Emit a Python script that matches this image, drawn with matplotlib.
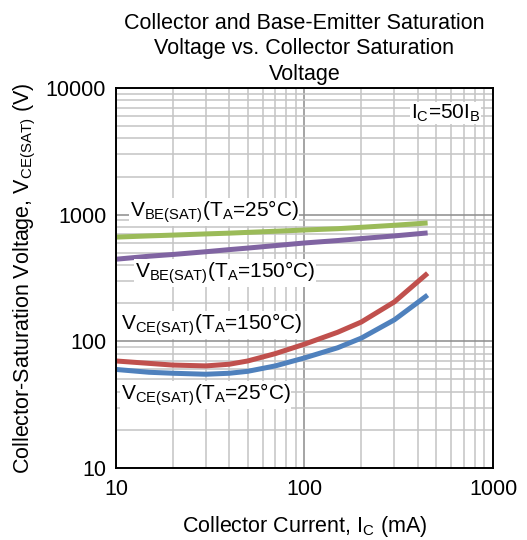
import numpy as np
import matplotlib.pyplot as plt
from matplotlib.ticker import LogLocator, NullFormatter, FixedLocator

plt.rcParams['font.family'] = ['Liberation Sans', 'DejaVu Sans']
plt.rcParams['mathtext.default'] = 'regular'

# collector current (mA)
ic = [10, 15, 20, 30, 40, 50, 70, 100, 150, 200, 300, 450]
# saturation voltages (mV)
vbe_25 = [665, 680, 690, 705, 715, 725, 740, 757, 775, 795, 825, 860]
vbe_150 = [445, 470, 485, 510, 530, 545, 570, 598, 625, 648, 680, 718]
vce_150 = [70, 67, 65, 64, 66, 70, 80, 95, 118, 142, 205, 345]
vce_25 = [60, 57, 56, 55, 56, 58, 64, 74, 89, 106, 148, 232]

fig = plt.figure(figsize=(5.27, 5.40), dpi=100)
ax = fig.add_axes([0.220, 0.1333, 0.7155, 0.7037])

ax.set_xscale('log')
ax.set_yscale('log')
ax.set_xlim(10, 1000)
ax.set_ylim(10, 10000)

ax.xaxis.set_major_locator(FixedLocator([10, 100, 1000]))
ax.yaxis.set_major_locator(FixedLocator([10, 100, 1000, 10000]))
ax.xaxis.set_minor_locator(LogLocator(base=10, subs=np.arange(2, 10)))
ax.yaxis.set_minor_locator(LogLocator(base=10, subs=np.arange(2, 10)))
ax.xaxis.set_minor_formatter(NullFormatter())
ax.yaxis.set_minor_formatter(NullFormatter())
ax.set_xticklabels(['10', '100', '1000'])
ax.set_yticklabels(['10', '100', '1000', '10000'])
ax.tick_params(which='both', length=0, labelsize=15.5)
ax.tick_params(axis='x', pad=8)
ax.tick_params(axis='y', pad=7)

ax.grid(which='major', color='#8c8c8c', lw=1.1)
ax.grid(which='minor', color='#c4c4c4', lw=1.1)
ax.set_axisbelow(True)
for s in ax.spines.values():
    s.set_linewidth(1.4)

lw = 3.6
ax.plot(ic, vbe_25, color='#9BBB59', lw=lw, solid_capstyle='butt')
ax.plot(ic, vbe_150, color='#8064A2', lw=lw, solid_capstyle='butt')
ax.plot(ic, vce_150, color='#C0504D', lw=lw, solid_capstyle='butt')
ax.plot(ic, vce_25, color='#4F81BD', lw=lw, solid_capstyle='butt')

box = dict(facecolor='white', edgecolor='none', pad=0.5)
fs = 15
ax.text(0.037, 0.674, r'V$_{BE(SAT)}$(T$_{A}$=25°C)', transform=ax.transAxes,
        fontsize=fs, va='center', ha='left', bbox=box)
ax.text(0.05, 0.513, r'V$_{BE(SAT)}$(T$_{A}$=150°C)', transform=ax.transAxes,
        fontsize=fs, va='center', ha='left', bbox=box)
ax.text(0.013, 0.376, r'V$_{CE(SAT)}$(T$_{A}$=150°C)', transform=ax.transAxes,
        fontsize=fs, va='center', ha='left', bbox=box)
ax.text(0.013, 0.192, r'V$_{CE(SAT)}$(T$_{A}$=25°C)', transform=ax.transAxes,
        fontsize=fs, va='center', ha='left', bbox=box)
ax.text(0.966, 0.934, r'I$_{C}$=50I$_{B}$', transform=ax.transAxes,
        fontsize=fs, va='center', ha='right', bbox=box)

ax.set_xlabel(r'Collector Current, I$_{C}$ (mA)', fontsize=15.5, labelpad=10)
ax.set_ylabel(r'Collector-Saturation Voltage, V$_{CE(SAT)}$ (V)', fontsize=15.5, labelpad=6)
ax.set_title('Collector and Base-Emitter Saturation\nVoltage vs. Collector Saturation\nVoltage',
             fontsize=15.5, pad=6, linespacing=1.28)

fig.savefig('out.png', dpi=100)
